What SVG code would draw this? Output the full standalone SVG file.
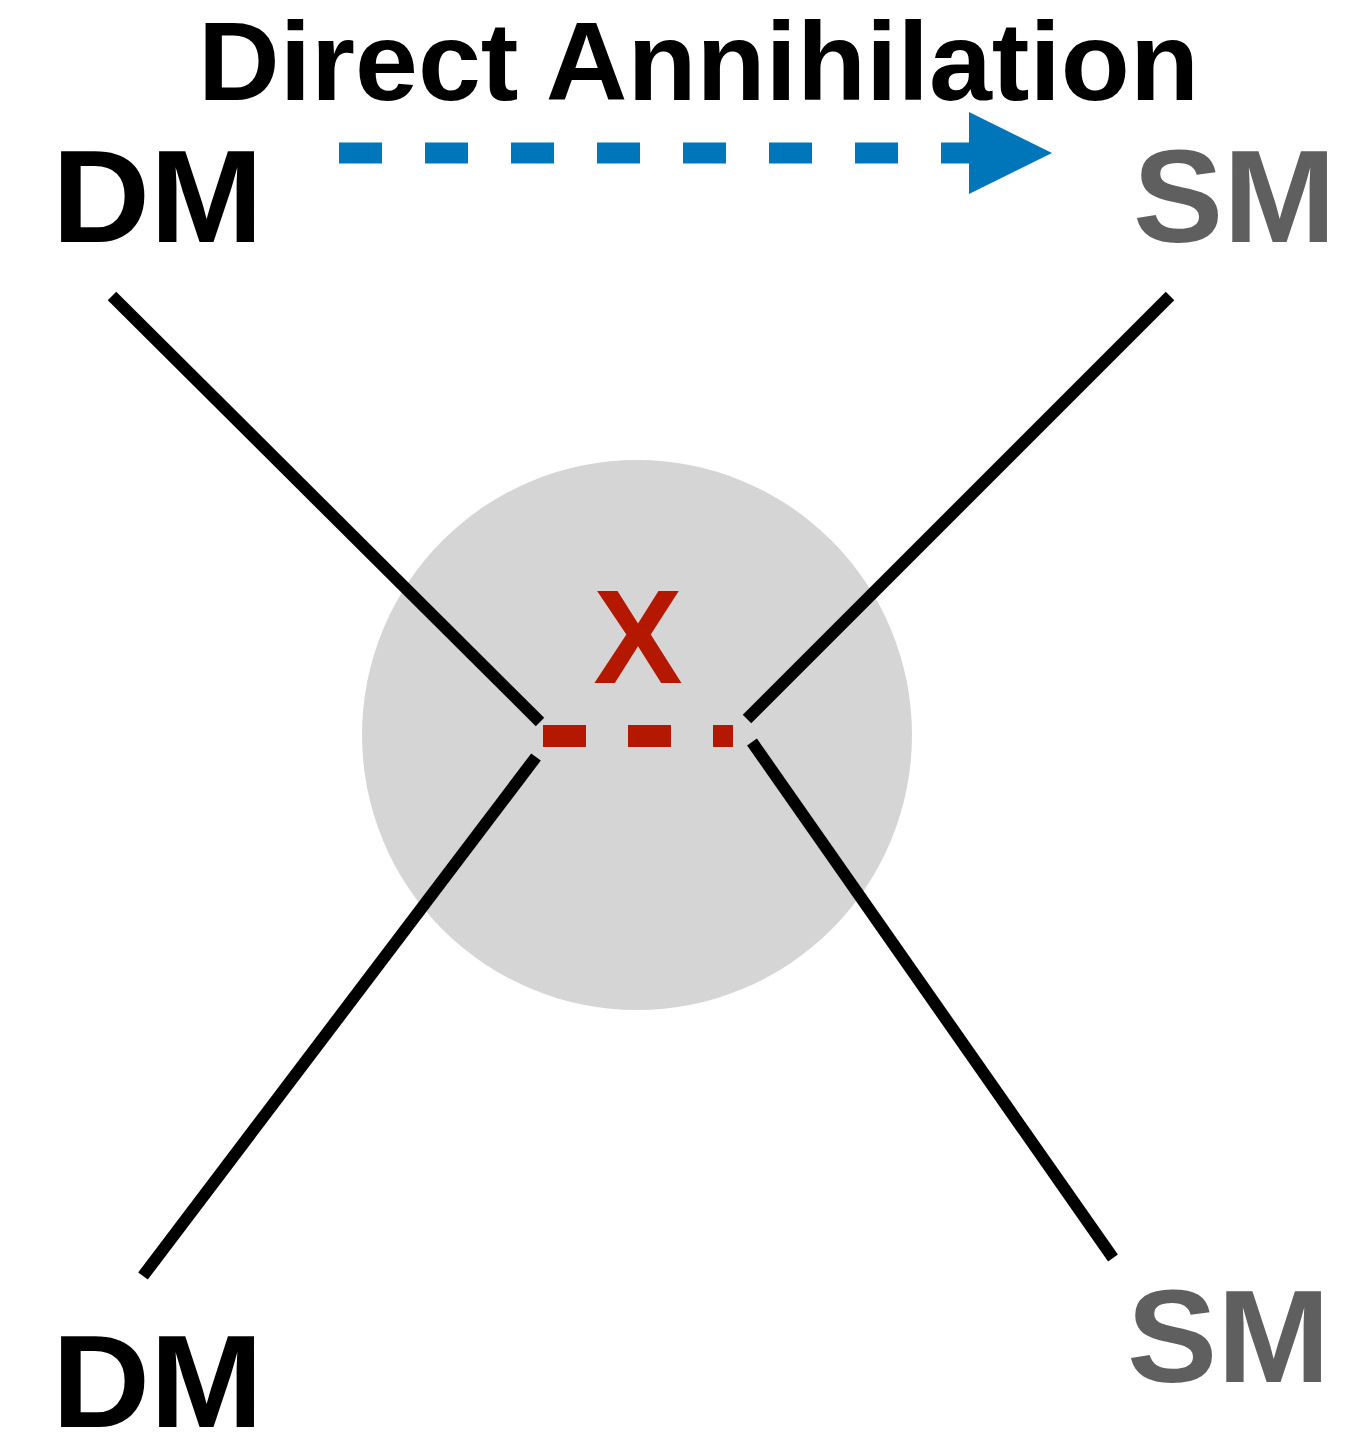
<svg xmlns="http://www.w3.org/2000/svg" width="1368" height="1432" viewBox="0 0 1368 1432">
  <style>
    .lbl { font-family: "Liberation Sans", Arial, Helvetica, sans-serif; font-weight: bold; }
    .dm { fill: #000000; }
    .sm { fill: #5f5f5f; }
    .leg { stroke: #000000; stroke-width: 12; fill: none; }
  </style>
  <defs>
    <marker id="blueHead" markerUnits="userSpaceOnUse" markerWidth="84" markerHeight="84" refX="0" refY="41" orient="auto" viewBox="0 0 84 82">
      <path d="M0,0 L83,41 L0,82 Z" fill="#0076ba"/>
    </marker>
  </defs>

  <rect width="1368" height="1432" fill="#ffffff"/>

  <!-- interaction blob -->
  <g id="vertex">
    <circle cx="637" cy="735" r="275" fill="#d5d5d5"/>
  </g>

  <!-- title -->
  <g id="title">
    <text class="lbl" x="198" y="100" font-size="112" fill="#000000" textLength="1001" lengthAdjust="spacingAndGlyphs">Direct Annihilation</text>
  </g>

  <!-- particle labels -->
  <g id="dm-top"><text class="lbl dm" x="52" y="242" font-size="131" textLength="211" lengthAdjust="spacingAndGlyphs">DM</text></g>
  <g id="sm-top"><text class="lbl sm" x="1133" y="242" font-size="131" textLength="203" lengthAdjust="spacingAndGlyphs">SM</text></g>
  <g id="dm-bottom"><text class="lbl dm" x="52" y="1427" font-size="131" textLength="211" lengthAdjust="spacingAndGlyphs">DM</text></g>
  <g id="sm-bottom"><text class="lbl sm" x="1127" y="1382" font-size="131" textLength="203" lengthAdjust="spacingAndGlyphs">SM</text></g>

  <!-- mediator label -->
  <g id="mediator">
    <text class="lbl" x="638" y="683" font-size="134" fill="#b41800" text-anchor="middle">X</text>
  </g>

  <!-- connectors -->
  <g id="connectors">
    <line class="leg" x1="112" y1="296" x2="540" y2="722"/>
    <line class="leg" x1="1170" y1="296" x2="747" y2="719"/>
    <line class="leg" x1="536" y1="757" x2="143" y2="1276"/>
    <line class="leg" x1="752" y1="742" x2="1113" y2="1258"/>
    <!-- mediator propagator -->
    <line x1="543" y1="736" x2="733" y2="736" stroke="#b41800" stroke-width="22" stroke-dasharray="43 42"/>
    <!-- process direction arrow -->
    <line x1="339" y1="153" x2="969" y2="153" stroke="#0076ba" stroke-width="21" stroke-dasharray="43 43" marker-end="url(#blueHead)"/>
  </g>
</svg>
